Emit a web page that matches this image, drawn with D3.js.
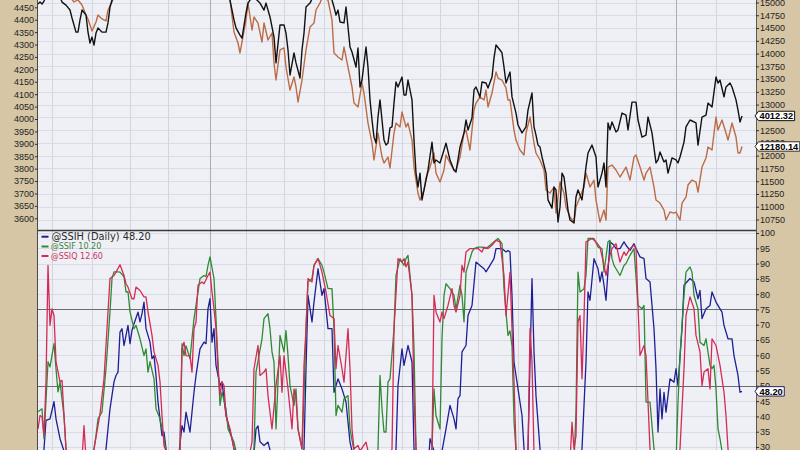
<!DOCTYPE html>
<html><head><meta charset="utf-8">
<script src="https://cdn.jsdelivr.net/npm/d3@7"></script>
<style>body{margin:0;background:#d6c6a6;} svg{display:block}</style>
</head><body><svg id="c" width="800" height="450"></svg>
<script>
// ---------- data ----------
const leftTicks = d3.range(3600, 4451, 50);
const rightTicks = d3.range(10750, 15001, 250);
const gridRight = d3.range(10500, 15251, 250);
const oscTicks = d3.range(30, 101, 5);
const oscGrid = d3.range(0, 101, 5);
const oscLevels = [25, 50, 75];
const monthDays = [7,27,46,65,86,104,123,143,162,182,201,220,240,260,279,299,319,339];
const yearDays = [86, 319];
const lastDay = 359;

const black = [[0,4463],[1,4471],[2,4463],[3,4475],[4,4496],[7,4528],[10,4512],[12,4471],[14,4459],[16,4439],[17,4407],[19,4350],[20,4350],[21,4399],[22,4439],[24,4419],[25,4350],[26,4306],[27,4330],[28,4298],[29,4346],[30,4367],[32,4350],[34,4350],[35,4387],[36,4451],[37,4479],[39,4512],[41,4560],[49,4620],[56,4580],[64,4641],[71,4600],[79,4661],[86,4600],[92,4540],[96,4479],[98,4399],[99,4367],[101,4338],[102,4326],[104,4427],[105,4467],[107,4491],[109,4483],[111,4467],[113,4439],[114,4467],[116,4411],[118,4330],[119,4226],[121,4379],[123,4379],[124,4346],[125,4278],[126,4177],[128,4266],[129,4226],[131,4165],[132,4278],[133,4346],[134,4451],[136,4467],[138,4500],[141,4520],[145,4500],[147,4479],[148,4451],[149,4419],[150,4439],[151,4391],[153,4387],[154,4451],[156,4290],[157,4270],[159,4209],[160,4286],[161,4129],[162,4157],[164,4290],[165,4209],[166,4077],[167,3996],[168,3927],[169,3903],[170,4008],[171,4077],[172,3996],[173,3915],[174,3895],[175,3903],[176,3964],[177,3968],[178,4064],[179,4149],[180,4129],[182,4169],[183,4097],[184,4097],[185,4157],[187,4077],[188,3915],[189,3782],[190,3726],[191,3782],[192,3674],[194,3754],[195,3794],[197,3907],[198,3823],[199,3835],[201,3823],[203,3875],[204,3903],[206,3835],[208,3794],[209,3786],[211,3887],[213,3944],[214,3996],[215,3956],[217,4004],[218,4117],[219,4129],[221,4089],[222,4149],[224,4145],[225,4125],[227,4169],[228,4246],[229,4298],[231,4278],[232,4266],[233,4209],[234,4145],[236,4189],[237,4089],[239,4024],[240,3976],[242,3944],[244,3968],[245,4036],[247,4105],[248,3968],[249,3935],[250,3895],[251,3887],[252,3847],[254,3782],[255,3674],[257,3641],[258,3726],[259,3714],[260,3585],[261,3645],[262,3782],[263,3766],[264,3702],[265,3633],[266,3593],[268,3581],[269,3686],[270,3714],[272,3674],[274,3807],[275,3863],[277,3895],[279,3847],[280,3726],[282,3782],[283,3823],[284,3726],[285,3984],[286,3956],[287,3988],[289,3948],[290,3956],[292,4024],[294,4016],[295,3956],[297,4068],[299,4068],[300,3996],[302,3927],[304,3935],[305,4008],[307,3944],[309,3823],[310,3835],[311,3867],[313,3827],[314,3835],[315,3782],[317,3843],[319,3835],[320,3823],[321,3847],[323,3907],[324,3968],[326,3996],[329,3984],[330,3895],[332,4008],[334,4016],[335,4064],[337,4048],[339,4169],[340,4145],[341,4157],[343,4089],[344,4129],[346,4145],[347,4129],[349,4077],[350,4036],[351,3988],[352,4012.32]];

const brown = [[0,15343],[6,15441],[12,15245],[16,15108],[18,15010],[20,15049],[22,14951],[24,14755],[25,14677],[27,14442],[29,14618],[30,14755],[32,14677],[34,14638],[35,14853],[37,15010],[39,15206],[41,15441],[49,15637],[56,15480],[64,15735],[71,15598],[79,15833],[86,15637],[92,15343],[96,15049],[98,14422],[100,14207],[101,14011],[104,14657],[105,14990],[107,14461],[108,14716],[110,14598],[112,14226],[113,14598],[115,14265],[117,14403],[118,13815],[119,13482],[121,14070],[123,14109],[124,13736],[126,13286],[128,13541],[129,13345],[130,13051],[132,13482],[134,14070],[136,14520],[138,14598],[139,14853],[141,14990],[142,15088],[145,15049],[147,14657],[148,14011],[150,13932],[152,13874],[153,14128],[155,13736],[157,13345],[158,13031],[160,12953],[162,13423],[163,13227],[165,12639],[167,12248],[168,11915],[170,12444],[172,11973],[173,11856],[175,11973],[176,11758],[178,12444],[179,12639],[181,12561],[182,12855],[184,12561],[185,12639],[187,12306],[188,11777],[190,11268],[191,11131],[193,11327],[194,11562],[196,11777],[198,12052],[199,11660],[201,11484],[203,11719],[204,12013],[206,11856],[208,11719],[209,11719],[211,11973],[213,12444],[214,12502],[216,12111],[218,12894],[219,13031],[221,13149],[223,13090],[224,13286],[225,12953],[227,13227],[229,13638],[230,13521],[232,13482],[234,13325],[235,13090],[236,13090],[238,12502],[239,12306],[241,12111],[243,12013],[244,12444],[246,12757],[248,12248],[249,12052],[251,11915],[253,11719],[254,11327],[256,11268],[258,11386],[259,10876],[261,11484],[263,11268],[264,10994],[266,10798],[268,10700],[269,10994],[271,11190],[273,11386],[274,11660],[276,11386],[278,11523],[279,11131],[281,10700],[283,10935],[284,10739],[285,11777],[287,11817],[289,11719],[291,11582],[294,11777],[296,11523],[298,11973],[299,12013],[301,11777],[303,11523],[304,11660],[306,11777],[308,11386],[309,11131],[311,11072],[313,10935],[314,10739],[316,10896],[318,10876],[319,10896],[321,10739],[322,11072],[324,11190],[325,11425],[327,11523],[329,11484],[330,11288],[332,11777],[334,11954],[335,12169],[337,12111],[339,12757],[340,12502],[342,12698],[344,12444],[345,12306],[347,12639],[349,12365],[350,12052],[351,12052],[352,12180.14]];

const ssih = [[0,25],[2,22],[3,29.4],[4,38.7],[6,39.2],[8,44.8],[9,39.2],[11,32.7],[13,28.7],[16,20],[21,12],[26,10],[31,15],[33,22],[34,29.4],[36,42.5],[38,51.3],[39,53.4],[40,54.5],[41,67.6],[42,68.7],[43,63.2],[45,69.8],[46,63.8],[47,68.1],[48,70.3],[50,74.1],[51,70.9],[52,73.6],[53,77.4],[54,68.7],[56,64.3],[57,58.9],[58,59.9],[59,53.4],[60,44.7],[62,33.7],[63,34.9],[64,29.4],[67,20],[70,25],[72,37.0],[73,34.9],[74,41.4],[76,34.9],[78,47.9],[79,53.4],[81,62.1],[83,64.3],[84,63.8],[85,75.2],[86,78.5],[87,64.3],[88,68.7],[89,56.7],[91,50.1],[92,51.3],[94,40.3],[97,32.7],[98,29.4],[101,18],[105,22],[108,28],[109,35.9],[110,36.9],[111,31.7],[113,30.5],[115,31.6],[116,29.0],[120,20],[126,15],[131,22],[133,29.4],[134,55.6],[135,79.6],[137,70.9],[138,77.4],[140,88.3],[142,79.6],[143,81.8],[145,68.7],[147,68.7],[148,47.9],[150,52.3],[152,49.0],[154,44.7],[156,31.6],[157,28.7],[164,15],[171,12],[178,20],[179,29.4],[180,50.1],[182,62.1],[183,56.7],[184,59.9],[185,63.2],[187,57.8],[188,29.4],[191,15],[195,22],[196,32.7],[198,28.7],[201,25],[204,35.9],[206,43.6],[208,39.2],[209,35.9],[210,45.8],[211,46.8],[212,61.1],[214,63.2],[215,73.0],[217,76.3],[219,90.5],[221,89.4],[223,88.3],[224,87.3],[226,89.4],[228,91.6],[229,94.9],[232,94.9],[234,93.8],[235,94.3],[236,93.8],[237,79.6],[238,57.8],[240,49.0],[242,40.3],[243,29.4],[244,25],[245,29.4],[246,57.8],[247,85.1],[248,61.1],[249,46.8],[251,29.4],[256,15],[264,10],[268,15],[272,29.4],[274,57.8],[275,80.7],[276,78.0],[278,91.6],[280,88.3],[281,84.0],[282,87.3],[283,82.9],[284,78.0],[286,97.1],[288,96.0],[289,94.9],[291,94.9],[293,97.1],[294,96.0],[296,94.3],[298,96.5],[299,94.9],[301,92.2],[303,91.6],[304,85.1],[306,84.0],[308,68.7],[309,55.6],[310,34.9],[311,49.0],[312,39.2],[313,47.9],[314,41.4],[316,52.3],[318,51.2],[319,55.6],[320,50.1],[322,68.7],[323,82.9],[326,85.1],[328,84.0],[330,78.5],[331,81.2],[332,72.0],[334,75.2],[336,76.3],[337,80.7],[339,77.4],[342,74.1],[343,69.8],[345,65.4],[347,65.4],[348,59.9],[350,53.4],[351,47.9],[352,48.2]];

const ssif = [[0,41.5],[2,42.5],[3,32.7],[5,57.9],[6,56.2],[8,63.8],[9,55.6],[10,48.0],[11,51.3],[13,40.2],[14,29.4],[19,20],[24,15],[27,25],[29,33.7],[30,39.2],[32,41.5],[34,55.6],[36,74.2],[37,85.1],[38,87.3],[40,87.3],[41,87.2],[43,85.7],[44,80.7],[45,80.8],[46,74.2],[48,68.7],[49,69.8],[51,65.4],[53,59.9],[54,62.1],[55,54.5],[56,57.9],[58,52.3],[59,42.5],[61,39.2],[63,32.7],[64,28.7],[67,20],[70,24],[71,29.4],[72,63.8],[73,59.9],[74,63.1],[76,58.9],[78,72.0],[79,76.3],[81,85.1],[83,86.1],[84,85.7],[85,89.4],[86,92.2],[88,85.1],[89,72.0],[90,57.9],[91,43.6],[92,47.9],[94,42.5],[95,35.9],[98,31.6],[99,28.7],[104,22],[108,29.4],[109,54.5],[112,65.4],[113,72.0],[115,73.6],[116,68.7],[117,61.1],[118,57.8],[119,35.9],[121,66.5],[123,61.1],[124,68.1],[125,59.9],[126,50.1],[128,43.6],[129,49.0],[130,35.9],[132,29.4],[133,46.8],[134,68.7],[135,84.0],[137,85.1],[138,89.4],[140,91.6],[142,89.4],[143,87.2],[145,81.8],[147,81.8],[148,68.7],[149,40.3],[150,43.6],[152,41.4],[153,45.8],[155,46.8],[156,35.9],[158,28.7],[164,20],[169,25],[170,29.4],[171,53.4],[172,42.5],[173,34.9],[174,34.9],[175,51.2],[176,52.3],[178,68.7],[179,86.1],[181,91.6],[182,90.5],[183,89.4],[184,91.6],[185,92.7],[187,79.6],[188,62.1],[189,29.4],[191,20],[195,25],[197,29.4],[198,49.0],[199,40.3],[201,35.9],[202,65.4],[203,79.6],[204,83.4],[206,81.8],[208,79.6],[209,75.2],[211,82.9],[212,79.6],[213,70.9],[214,87.2],[217,93.8],[218,94.9],[220,95.4],[222,95.4],[224,94.9],[226,96.0],[228,97.1],[230,98.2],[232,96.5],[233,81.8],[235,66.5],[236,68.0],[237,63.1],[238,38.6],[239,28.7],[244,15],[251,10],[261,12],[268,25],[269,41.4],[270,87.2],[271,80.7],[273,81.8],[274,86.1],[275,98.2],[276,98.2],[278,98.2],[280,95.4],[282,94.9],[283,87.2],[285,97.1],[286,97.6],[287,91.6],[288,89.4],[289,88.3],[291,86.1],[293,89.4],[294,90.0],[296,92.7],[298,94.9],[300,76.3],[302,75.2],[303,76.3],[304,44.7],[306,44.7],[308,29.4],[314,20],[319,25],[320,44.7],[321,59.9],[323,79.6],[324,87.2],[326,88.9],[327,87.2],[328,79.6],[330,75.2],[331,64.3],[333,63.2],[334,65.4],[336,56.7],[337,55.6],[338,56.7],[339,49.0],[340,35.9],[341,32.7],[342,28.7],[346,20],[352,10.2]];

const ssiq = [[0,35.9],[1,40.3],[2,39.9],[3,33.7],[4,51.3],[5,89.4],[6,69.8],[7,75.2],[8,73.0],[9,57.9],[11,51.3],[12,51.8],[13,40.3],[14,29.4],[17,20],[21,25],[22,26],[23,37.0],[24,26],[26,20],[28,29.4],[31,40.8],[33,52.3],[36,85.1],[38,86.1],[39,87.2],[41,89.6],[43,86.1],[44,83.4],[45,82.3],[47,78.5],[48,78.5],[49,82.3],[51,81.2],[53,79.1],[54,79.1],[55,74.2],[57,66.5],[58,61.1],[60,56.7],[61,51.3],[62,40.3],[63,30.5],[64,28.7],[67,22],[70,25],[71,29.4],[72,62.1],[73,64.3],[74,59.9],[76,59.8],[77,54.5],[78,68.7],[79,70.9],[80,82.9],[82,84.0],[83,83.4],[85,86.1],[86,87.2],[87,80.7],[88,75.2],[89,68.7],[90,55.6],[91,46.8],[92,51.3],[93,50.1],[94,40.3],[96,35.9],[98,29.4],[101,20],[105,25],[107,31.6],[108,55.6],[110,63.2],[111,53.4],[113,54.5],[114,55.6],[115,46.8],[117,35.9],[119,50.1],[121,59.9],[122,47.9],[123,59.9],[125,49.0],[127,35.9],[128,49.0],[129,45.8],[130,35.9],[132,29.4],[133,56.7],[134,68.7],[135,85.1],[137,84.0],[138,89.4],[140,91.6],[142,87.2],[144,80.7],[146,73.0],[148,72.0],[149,55.6],[150,63.2],[152,55.6],[153,51.2],[155,68.7],[156,55.6],[157,35.9],[158,29.4],[160,30.5],[161,28.7],[164,31.6],[165,28.7],[169,22],[175,25],[177,29.4],[178,68.7],[180,91.6],[182,90.5],[183,91.6],[184,88.9],[185,90.5],[187,79.6],[188,46.8],[189,29.4],[192,20],[197,29.4],[198,79.6],[199,74.1],[201,70.9],[202,74.1],[203,72.0],[205,76.3],[207,81.8],[208,76.3],[209,74.1],[211,79.6],[212,89.4],[213,87.2],[214,93.8],[216,94.9],[218,94.9],[220,94.9],[222,93.8],[223,95.4],[225,94.9],[227,96.0],[229,97.6],[231,97.1],[233,86.1],[234,73.0],[236,87.2],[237,68.7],[238,51.6],[239,29.4],[241,20],[245,28],[246,68.7],[247,57.8],[248,28],[254,15],[261,10],[266,25],[267,38.1],[268,29.4],[269,33.7],[270,70.9],[271,73.0],[272,52.3],[273,72.0],[274,97.1],[277,98.2],[279,97.1],[281,95.4],[283,89.4],[284,86.1],[286,92.7],[287,94.9],[289,96.5],[291,90.5],[293,93.8],[294,92.7],[296,94.9],[298,96.0],[299,94.9],[300,76.3],[301,59.9],[303,63.2],[304,59.9],[305,44.7],[306,29.4],[311,15],[319,20],[321,29.4],[323,55.6],[324,73.0],[326,79.1],[328,75.2],[329,66.5],[331,61.1],[332,50.1],[333,54.5],[335,55.6],[336,49.0],[337,65.4],[339,63.2],[341,56.7],[343,47.9],[344,40.3],[345,29.4],[348,18],[352,12.6]];

const oscSeries = [
  {name:"@SSIH (Daily)", data:ssih, color:"#1f1f95", text:"#2a2a2a", size:9.8},
  {name:"@SSIF", data:ssif, color:"#2f8a34", text:"#3a843a", size:8},
  {name:"@SSIQ", data:ssiq, color:"#d42a55", text:"#c8335e", size:8}
];

// ---------- layout ----------
const L = 38, R = 756, topBottom = 230, botTop = 231, H = 450;
const svg = d3.select("#c");
const x = d3.scaleLinear().domain([0, lastDay]).range([L, R]);
const yL = d3.scaleLinear().domain([3600, 4450]).range([218.3, 7.3]);
const yR = d3.scaleLinear().domain([10750, 15000]).range([219.5, 2.5]);
const yO = d3.scaleLinear().domain([30, 100]).range([447, 233]);

const defs = svg.append("defs");
defs.append("clipPath").attr("id","cTop").append("rect").attr("x",L).attr("y",0).attr("width",R-L).attr("height",topBottom);
defs.append("clipPath").attr("id","cBot").append("rect").attr("x",L).attr("y",botTop).attr("width",R-L).attr("height",H-botTop);

svg.append("rect").attr("width",800).attr("height",450).attr("fill","#d6c6a6");
svg.append("rect").attr("x",L).attr("y",0).attr("width",R-L).attr("height",H).attr("fill","#eff0f6");

// ---------- grids ----------
const gTop = svg.append("g").attr("clip-path","url(#cTop)");
const gBot = svg.append("g").attr("clip-path","url(#cBot)");

gTop.selectAll(".hg").data(gridRight).join("line")
  .attr("x1",L).attr("x2",R).attr("y1",d=>Math.round(yR(d))+0.5).attr("y2",d=>Math.round(yR(d))+0.5)
  .attr("stroke","#d9dce6").attr("stroke-width",1);
gBot.selectAll(".hg").data(oscGrid.filter(d=>!oscLevels.includes(d))).join("line")
  .attr("x1",L).attr("x2",R).attr("y1",d=>Math.round(yO(d))+0.5).attr("y2",d=>Math.round(yO(d))+0.5)
  .attr("stroke","#d9dce6").attr("stroke-width",1);

[gTop, gBot].forEach(g=>{
  g.selectAll(".vg").data(monthDays).join("line")
    .attr("x1",d=>Math.round(x(d))+0.5).attr("x2",d=>Math.round(x(d))+0.5)
    .attr("y1",0).attr("y2",H)
    .attr("stroke",d=>yearDays.includes(d) ? "#a8acb6" : "#d2d5df").attr("stroke-width",1);
});
gBot.selectAll(".lv").data(oscLevels).join("line")
  .attr("x1",L).attr("x2",R).attr("y1",d=>Math.round(yO(d))+0.5).attr("y2",d=>Math.round(yO(d))+0.5)
  .attr("stroke","#6c6c6c").attr("stroke-width",1);

// ---------- lines ----------
const line = (ys)=> d3.line().x(d=>x(d[0])).y(d=>ys(d[1]));
gTop.append("path").datum(brown).attr("d",line(yR)).attr("fill","none")
  .attr("stroke","#bb6c45").attr("stroke-width",1.4).attr("stroke-linejoin","round");
gTop.append("path").datum(black).attr("d",line(yL)).attr("fill","none")
  .attr("stroke","#111").attr("stroke-width",1.4).attr("stroke-linejoin","round");
oscSeries.forEach(s=>{
  gBot.append("path").datum(s.data).attr("d",line(yO)).attr("fill","none")
    .attr("stroke",s.color).attr("stroke-width",1.3).attr("stroke-linejoin","round");
});

// ---------- frame ----------
svg.append("line").attr("x1",L).attr("x2",R).attr("y1",topBottom+0.5).attr("y2",topBottom+0.5)
  .attr("stroke","#3a3a3a").attr("stroke-width",1.6);
svg.append("line").attr("x1",L-0.5).attr("x2",L-0.5).attr("y1",0).attr("y2",H).attr("stroke","#4a4a4a");
svg.append("line").attr("x1",R+0.5).attr("x2",R+0.5).attr("y1",0).attr("y2",H).attr("stroke","#5a5a5a");

// ---------- axes ----------
function styleAxis(g){
  g.select(".domain").remove();
  g.selectAll(".tick line").attr("stroke","#333");
  g.selectAll(".tick text").attr("font-family","'Liberation Sans', Arial, sans-serif")
    .attr("font-size","9px").attr("fill","#1e1e1e");
}
svg.append("g").attr("transform",`translate(${L},0)`)
  .call(d3.axisLeft(yL).tickValues(leftTicks).tickSize(3).tickPadding(1).tickFormat(d3.format("d")))
  .call(styleAxis);
svg.append("g").attr("transform",`translate(${R},0)`)
  .call(d3.axisRight(yR).tickValues(rightTicks).tickSize(3).tickPadding(1).tickFormat(d3.format("d")))
  .call(styleAxis);
svg.append("g").attr("transform",`translate(${R},0)`)
  .call(d3.axisRight(yO).tickValues(oscTicks).tickSize(3).tickPadding(1).tickFormat(d3.format("d")))
  .call(styleAxis);

// ---------- value tags ----------
function tag(yPos, label, stroke){
  const g = svg.append("g");
  const t = g.append("text").attr("x",R+3.5).attr("y",yPos).attr("dy","0.34em")
    .attr("font-family","'Liberation Sans', Arial, sans-serif").attr("font-weight","bold")
    .attr("font-size","9.3px").attr("fill","#000").text(label);
  const w = t.node().getComputedTextLength();
  const x0 = R-1, x1 = R+3.5+w+1.5, h = 4.7;
  g.insert("path","text").attr("d",`M${x0},${yPos} L${x0+3.5},${yPos-h} L${x1},${yPos-h} L${x1},${yPos+h} L${x0+3.5},${yPos+h} Z`)
    .attr("fill","#fff").attr("stroke",stroke).attr("stroke-width",1);
}
const lastB = black[black.length-1][1], lastBr = brown[brown.length-1][1], lastH = ssih[ssih.length-1][1];
tag(yL(lastB), d3.format(".2f")(lastB), "#111");
tag(yR(lastBr), d3.format(".2f")(lastBr), "#3a2a20");
tag(yO(lastH), d3.format(".2f")(lastH), "#20206a");

// ---------- legend ----------
const legY = [236.7, 246.5, 256];
oscSeries.forEach((s,i)=>{
  svg.append("line").attr("x1",41.5).attr("x2",48.5).attr("y1",legY[i]).attr("y2",legY[i])
    .attr("stroke",s.color).attr("stroke-width",2);
  svg.append("text").attr("x", i===0 ? 51.5 : 50.7).attr("y",legY[i]).attr("dy","0.36em")
    .attr("font-family","'DejaVu Sans', Verdana, sans-serif").attr("font-size",s.size+"px")
    .attr("fill",s.text).text(`${s.name} ${d3.format(".2f")(s.data[s.data.length-1][1])}`);
});
</script>
</body></html>
